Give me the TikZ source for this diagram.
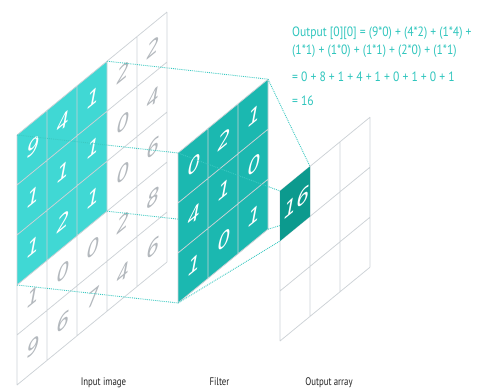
\documentclass[tikz,border=0pt]{standalone}
\usepackage{fontspec}
\usepackage{tikz}
\usetikzlibrary{positioning}
\newfontfamily\cellfont{DejaVu Sans}[FakeSlant=0.22]
\newfontfamily\capfont{PT Sans}[FakeStretch=0.8]
\newfontfamily\formfont{PT Sans}[FakeStretch=0.86]
\definecolor{InTeal}{HTML}{40D8D4}
\definecolor{FiltTeal}{HTML}{1BB8B0}
\definecolor{OutTeal}{HTML}{0C9A8E}
\definecolor{GridGray}{HTML}{CDD2D6}
\definecolor{NumGray}{HTML}{B3B8BD}
\definecolor{DotTeal}{HTML}{3CC9C2}
\definecolor{TextTeal}{HTML}{2FC5BD}
\definecolor{CapGray}{HTML}{222222}
\tikzset{
  plane/.style    = {cm={1,0.82,0,1,(0,0)}},
  cellgrid/.style = {draw=GridGray, line width=0.75pt, xstep=30, ystep=50},
  numw/.style     = {font=\cellfont\fontsize{20}{20}\selectfont, text=white,
                     transform shape, inner sep=0pt},
  numg/.style     = {numw, text=NumGray},
  guide/.style    = {draw=DotTeal, densely dotted, line width=0.9pt},
  lbl/.style      = {font=\capfont\fontsize{11}{13}\selectfont, text=CapGray,
                     anchor=base, inner sep=0pt},
  formula/.style  = {font=\formfont\fontsize{13.5}{15}\selectfont, text=TextTeal,
                     anchor=base west, inner sep=0pt},
}
\begin{document}
\begin{tikzpicture}[x=1pt, y=1pt]
  \useasboundingbox (0,0) rectangle (478,389);
  % input image
  \begin{scope}[shift={(17,254)}, plane]
    \fill[InTeal] (0,0) rectangle (90,-150);
    \draw[cellgrid] (0,0) grid (150,-250);
    \coordinate (in-tl) at (0,0);
    \coordinate (in-tr) at (90,0);
    \coordinate (in-bl) at (0,-150);
    \coordinate (in-br) at (90,-150);
    \node[numw] (i11) at (15,-25) {9};
    \node[numw] (i12) at (45,-25) {4};
    \node[numw] (i13) at (75,-25) {1};
    \node[numg] (i14) at (105,-25) {2};
    \node[numg] (i15) at (135,-25) {2};
    \node[numw] (i21) at (15,-75) {1};
    \node[numw] (i22) at (45,-75) {1};
    \node[numw] (i23) at (75,-75) {1};
    \node[numg] (i24) at (105,-75) {0};
    \node[numg] (i25) at (135,-75) {4};
    \node[numw] (i31) at (15,-125) {1};
    \node[numw] (i32) at (45,-125) {2};
    \node[numw] (i33) at (75,-125) {1};
    \node[numg] (i34) at (105,-125) {0};
    \node[numg] (i35) at (135,-125) {6};
    \node[numg] (i41) at (15,-175) {1};
    \node[numg] (i42) at (45,-175) {0};
    \node[numg] (i43) at (75,-175) {0};
    \node[numg] (i44) at (105,-175) {2};
    \node[numg] (i45) at (135,-175) {8};
    \node[numg] (i51) at (15,-225) {9};
    \node[numg] (i52) at (45,-225) {6};
    \node[numg] (i53) at (75,-225) {7};
    \node[numg] (i54) at (105,-225) {4};
    \node[numg] (i55) at (135,-225) {6};
  \end{scope}
  % filter corners
  \begin{scope}[shift={(178,236)}, plane]
    \coordinate (f-tl) at (0,0);
    \coordinate (f-tr) at (90,0);
    \coordinate (f-bl) at (0,-150);
    \coordinate (f-br) at (90,-150);
  \end{scope}
  \draw[guide] (in-tl) -- (f-tl);
  \draw[guide] (in-tr) -- (f-tr);
  \draw[guide] (in-bl) -- (f-bl);
  \draw[guide] (in-br) -- (f-br);
  % filter
  \begin{scope}[shift={(178,236)}, plane]
    \fill[FiltTeal] (0,0) rectangle (90,-150);
    \draw[cellgrid] (0,0) grid (90,-150);
    \node[numw] (k11) at (15,-25) {0};
    \node[numw] (k12) at (45,-25) {2};
    \node[numw] (k13) at (75,-25) {1};
    \node[numw] (k21) at (15,-75) {4};
    \node[numw] (k22) at (45,-75) {1};
    \node[numw] (k23) at (75,-75) {0};
    \node[numw] (k31) at (15,-125) {1};
    \node[numw] (k32) at (45,-125) {0};
    \node[numw] (k33) at (75,-125) {1};
  \end{scope}
  % output array
  \begin{scope}[shift={(280,198)}, plane]
    \draw[cellgrid] (0,0) grid (90,-150);
    \coordinate (o-tl) at (0,0);
    \coordinate (o-tr) at (30,0);
    \coordinate (o-bl) at (0,-50);
    \coordinate (o-br) at (30,-50);
  \end{scope}
  \draw[guide] (f-tl) -- (o-tl);
  \draw[guide] (f-tr) -- (o-tr);
  \draw[guide] (f-bl) -- (o-bl);
  \draw[guide] (f-br) -- (o-br);
  \begin{scope}[shift={(280,198)}, plane]
    \fill[OutTeal] (0,0) rectangle (30,-50);
    \node[numw] (o11) at (15,-25) {16};
  \end{scope}
  % formula
  \node[formula] (f1) at (292,352) {Output [0][0] = (9*0) + (4*2) + (1*4) +};
  \node[formula] (f2) at (292,334) {(1*1) + (1*0) + (1*1) + (2*0) + (1*1)};
  \node[formula] (f3) at (292,308) {= 0 + 8 + 1 + 4 + 1 + 0 + 1 + 0 + 1};
  \node[formula] (f4) at (292,284) {= 16};
  % captions
  \node[lbl] (cap-in) at (103.5,4) {Input image};
  \node[lbl] (cap-f) at (219.5,4) {Filter};
  \node[lbl] (cap-o) at (329,4) {Output array};
\end{tikzpicture}
\end{document}
